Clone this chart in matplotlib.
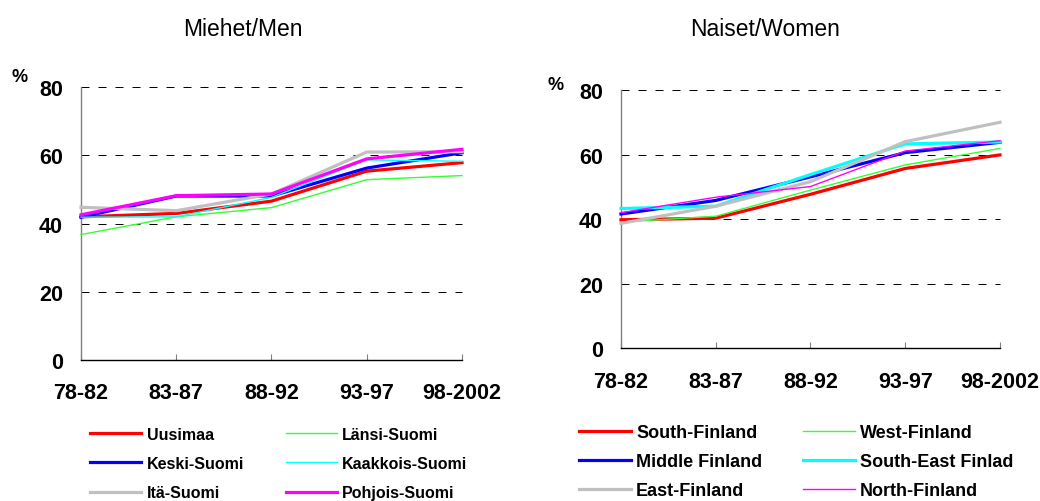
import matplotlib
matplotlib.use("Agg")
import matplotlib.pyplot as plt

plt.rcParams['font.family'] = ['Liberation Sans', 'DejaVu Sans']

periods = ["78-82", "83-87", "88-92", "93-97", "98-2002"]

# Miehet/Men
men_names = ["Uusimaa", "Länsi-Suomi", "Keski-Suomi", "Kaakkois-Suomi", "Itä-Suomi", "Pohjois-Suomi"]
uusimaa = [42.0, 43.0, 46.6, 55.4, 57.9]
lansi = [36.8, 42.0, 44.7, 52.9, 54.1]
keski = [41.9, 48.1, 48.1, 56.3, 60.8]
kaakkois = [41.9, 42.0, 47.7, 58.7, 58.3]
ita = [44.8, 43.8, 48.7, 61.0, 61.1]
pohjois = [42.6, 48.2, 48.7, 59.0, 61.8]

# Naiset/Women
women_names = ["South-Finland", "West-Finland", "Middle Finland", "South-East Finlad", "East-Finland", "North-Finland"]
south = [39.8, 40.3, 47.7, 55.7, 59.9]
west = [39.1, 40.9, 49.0, 56.8, 61.9]
middle = [41.6, 45.8, 53.1, 60.6, 63.8]
south_east = [43.3, 44.0, 53.8, 63.3, 63.9]
east = [38.7, 44.0, 51.6, 64.0, 70.0]
north = [42.0, 46.8, 50.1, 61.1, 64.3]

colors = ["#ff0000", "#33ff33", "#0000ff", "#00ffff", "#c0c0c0", "#ff00ff"]
men_widths = [2.3, 1.0, 2.3, 1.0, 2.3, 2.3]
women_widths = [2.3, 1.0, 2.3, 2.3, 2.3, 1.0]

fig = plt.figure(figsize=(10.4, 5.02), dpi=100)
ax1 = fig.add_axes([0.0779, 0.2809, 0.3663, 0.5432])
ax2 = fig.add_axes([0.5971, 0.3042, 0.3644, 0.5145])


def setup(ax, pct_xy):
    ax.set_xlim(0, 4)
    ax.set_ylim(0, 80)
    ax.set_yticks([0, 20, 40, 60, 80])
    ax.set_xticks(range(len(periods)))
    ax.set_xticklabels(periods)
    for y in [20, 40, 60, 80]:
        ax.axhline(y, color="black", lw=0.72, linestyle=(0, (8, 9)), zorder=1, clip_on=False)
    for s in ["top", "right"]:
        ax.spines[s].set_visible(False)
    ax.spines["left"].set_color("#808080")
    ax.spines["bottom"].set_color("black")
    ax.spines["left"].set_linewidth(1.0)
    ax.spines["bottom"].set_linewidth(1.0)
    ax.tick_params(axis="y", length=0, pad=13, labelsize=15.5)
    ax.tick_params(axis="x", direction="in", length=4, color="#808080", pad=16, labelsize=15.5)
    for lab in ax.get_xticklabels() + ax.get_yticklabels():
        lab.set_fontweight("bold")
    fig.text(pct_xy[0], pct_xy[1], "%", fontsize=13, fontweight="bold", ha="center", va="center")


men_series = [uusimaa, lansi, keski, kaakkois, ita, pohjois]
women_series = [south, west, middle, south_east, east, north]

h1 = []
for vals, name, c, w in zip(men_series, men_names, colors, men_widths):
    ln, = ax1.plot(range(len(periods)), vals, color=c, lw=w, label=name, zorder=3, clip_on=False)
    h1.append(ln)
h2 = []
for vals, name, c, w in zip(women_series, women_names, colors, women_widths):
    ln, = ax2.plot(range(len(periods)), vals, color=c, lw=w, label=name, zorder=3, clip_on=False)
    h2.append(ln)

setup(ax1, (20 / 1040, 1 - 78 / 502))
setup(ax2, (556 / 1040, 1 - 86 / 502))

fig.text(243 / 1040, 1 - 30 / 502, "Miehet/Men", fontsize=16.5, ha="center", va="center")
fig.text(765 / 1040, 1 - 30 / 502, "Naiset/Women", fontsize=16.5, ha="center", va="center")

order = [0, 2, 4, 1, 3, 5]
fig.legend([h1[i] for i in order], [men_names[i] for i in order],
           loc="upper left", frameon=False, ncol=2, borderpad=0, borderaxespad=0,
           handlelength=3.2, handletextpad=0.35, labelspacing=0.88, columnspacing=2.6,
           prop={"weight": "bold", "size": 11.5},
           bbox_to_anchor=(90 / 1040, 1 - 428 / 502))
fig.legend([h2[i] for i in order], [women_names[i] for i in order],
           loc="upper left", frameon=False, ncol=2, borderpad=0, borderaxespad=0,
           handlelength=2.88, handletextpad=0.28, labelspacing=0.66, columnspacing=2.27,
           prop={"weight": "bold", "size": 13},
           bbox_to_anchor=(579 / 1040, 1 - 425 / 502))

fig.savefig("out.png", dpi=100)
